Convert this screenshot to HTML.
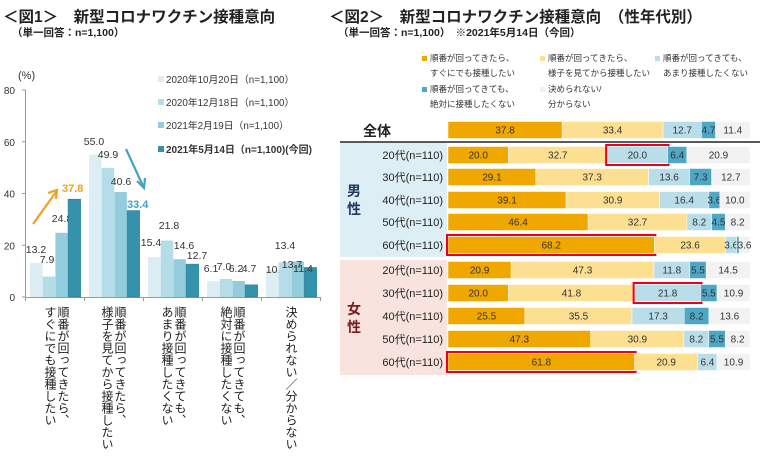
<!DOCTYPE html>
<html><head><meta charset="utf-8">
<style>
body{margin:0;width:760px;height:459px;background:#fff;overflow:hidden;position:relative;font-family:"Liberation Sans","Noto Sans CJK JP",sans-serif;color:#222}
.a{position:absolute;white-space:nowrap}
.vt{position:absolute;writing-mode:vertical-rl;font-size:12px;line-height:13px;color:#222;white-space:nowrap}
</style></head><body>
<div class="a" style="left:3px;top:5px;font-size:15.5px;font-weight:bold">＜図1＞　新型コロナワクチン接種意向</div>
<div class="a" style="left:12px;top:25px;font-size:10.5px;font-weight:bold">（単一回答：n=1,100）</div>
<div class="a" style="left:329px;top:5px;font-size:15.5px;font-weight:bold">＜図2＞　新型コロナワクチン接種意向　（性年代別）</div>
<div class="a" style="left:338px;top:25px;font-size:10.5px;font-weight:bold">（単一回答：n=1,100）　※2021年5月14日（今回）</div>

<div class="vt" style="left:43px;top:306px">順番が回ってきたら、<br>すぐにでも接種したい</div>
<div class="vt" style="left:100px;top:306px">順番が回ってきたら、<br>様子を見てから接種したい</div>
<div class="vt" style="left:160px;top:306px">順番が回ってきても、<br>あまり接種したくない</div>
<div class="vt" style="left:219px;top:306px">順番が回ってきても、<br>絶対に接種したくない</div>
<div class="vt" style="left:284px;top:306px">決められない／分からない</div>

<svg width="760" height="459" style="position:absolute;left:0;top:0" font-family="Liberation Sans, Noto Sans CJK JP, sans-serif">
<g id="c1"></g>
<g id="c2"></g>
</svg>
<script>
var NS="http://www.w3.org/2000/svg";
function el(p,t,a,txt){var e=document.createElementNS(NS,t);for(var k in a)e.setAttribute(k,a[k]);if(txt!=null)e.textContent=txt;p.appendChild(e);return e;}
var c1=document.getElementById("c1");
el(c1,"text",{x:18,y:79,"font-size":11,fill:"#333"},"(%)");
[[80,90],[60,141.75],[40,193.5],[20,245.25],[0,297]].forEach(function(v){
 el(c1,"text",{x:15,y:v[1]+4,"font-size":10,fill:"#333","text-anchor":"end"},v[0]);
 el(c1,"line",{x1:22,x2:26,y1:v[1],y2:v[1],stroke:"#999"});
});
el(c1,"line",{x1:25.5,x2:25.5,y1:90,y2:297,stroke:"#999"});
el(c1,"line",{x1:25,x2:321,y1:297.5,y2:297.5,stroke:"#999"});
for(var k=0;k<6;k++){var tx=25.5+59*k;el(c1,"line",{x1:tx,x2:tx,y1:297,y2:301,stroke:"#999"});}
var cols=["#DCEEF4","#B5DDE8","#93CDDD","#3592AD"];
var data=[[13.2,7.9,24.8,37.8],[55.0,49.9,40.6,33.4],[15.4,21.8,14.6,12.7],[6.1,7.0,6.2,4.7],[10.4,13.4,13.7,11.4]];
var lab=[[[36,253],[47,263],[62,222],null],[[94,145],[108,158],[121,185],null],[[151,246],[169,229],[184,249],[197,259]],[[211,272],[224,270],[236,272],[249,272]],[[276,273],[285,249],[292,268],[303,272]]];
data.forEach(function(g,i){g.forEach(function(v,j){
 var x=30+59*i+12.7*j,h=v*2.5875;
 el(c1,"rect",{x:x,y:297-h,width:12.5,height:h,fill:cols[j],stroke:j==3?"#2a7f99":"none","stroke-width":0.6});
 if(lab[i][j])el(c1,"text",{x:lab[i][j][0],y:lab[i][j][1],"font-size":10.5,fill:"#333","text-anchor":"middle"},v.toFixed(1));
});});
var lg=["2020年10月20日（n=1,100）","2020年12月18日（n=1,100）","2021年2月19日（n=1,100）","2021年5月14日（n=1,100)(今回)"];
[80,103,126,150].forEach(function(y,i){
 el(c1,"rect",{x:158,y:y-4,width:6,height:6,fill:cols[i]});
 el(c1,"text",{x:166,y:y+3,"font-size":i==3?10:9.8,"font-weight":i==3?"bold":"normal",fill:"#333"},lg[i]);
});
el(c1,"line",{x1:33,y1:224,x2:56,y2:192,stroke:"#F0A020","stroke-width":2.2});
el(c1,"polyline",{points:"48,193 57,190 56,199",fill:"none",stroke:"#F0A020","stroke-width":2.2});
el(c1,"text",{x:62,y:192,"font-size":11,"font-weight":"bold",fill:"#F0A020"},"37.8");
el(c1,"line",{x1:126,y1:149,x2:143,y2:186,stroke:"#3FA3C4","stroke-width":2.2});
el(c1,"polyline",{points:"137,181 144,188 145,178",fill:"none",stroke:"#3FA3C4","stroke-width":2.2});
el(c1,"text",{x:127,y:208,"font-size":11,"font-weight":"bold",fill:"#3FA3C4"},"33.4");

var c2=document.getElementById("c2");
var c2c=["#F0A800","#FDDF92","#B9DEE9","#4EA7C5","#F2F2F2"];
var lg2=[[422,60,0,"順番が回ってきたら、","すぐにでも接種したい"],[540,60,1,"順番が回ってきたら、","様子を見てから接種したい"],[655,60,2,"順番が回ってきても、","あまり接種したくない"],[422,91,3,"順番が回ってきても、","絶対に接種したくない"],[540,91,4,"決められない/","分からない"]];
lg2.forEach(function(l){
 el(c2,"rect",{x:l[0],y:l[1]-4,width:5,height:5,fill:c2c[l[2]]});
 el(c2,"text",{x:l[0]+8,y:l[1]+1,"font-size":8.5,fill:"#333"},l[3]);
 el(c2,"text",{x:l[0]+8,y:l[1]+16,"font-size":8.5,fill:"#333"},l[4]);
});
el(c2,"rect",{x:340,y:143,width:107,height:114,fill:"#DDEEF4"});
el(c2,"rect",{x:340,y:260,width:107,height:115,fill:"#F8E3DE"});
el(c2,"line",{x1:340,x2:760,y1:142,y2:142,stroke:"#222","stroke-width":1.5});
el(c2,"text",{x:363,y:136,"font-size":14,"font-weight":"bold",fill:"#222"},"全体");
el(c2,"text",{x:347,y:196,"font-size":14,"font-weight":"bold",fill:"#1F3864"},"男");
el(c2,"text",{x:347,y:214,"font-size":14,"font-weight":"bold",fill:"#1F3864"},"性");
el(c2,"text",{x:347,y:314,"font-size":14,"font-weight":"bold",fill:"#7B1C1C"},"女");
el(c2,"text",{x:347,y:332,"font-size":14,"font-weight":"bold",fill:"#7B1C1C"},"性");
var rows=[
[130,"",[37.8,33.4,12.7,4.7,11.4]],
[155,"20代(n=110)",[20.0,32.7,20.0,6.4,20.9],2],
[177,"30代(n=110)",[29.1,37.3,13.6,7.3,12.7]],
[200,"40代(n=110)",[39.1,30.9,16.4,3.6,10.0]],
[222,"50代(n=110)",[46.4,32.7,8.2,4.5,8.2]],
[245,"60代(n=110)",[68.2,23.6,3.6,0.8,3.6],0],
[270,"20代(n=110)",[20.9,47.3,11.8,5.5,14.5]],
[293,"30代(n=110)",[20.0,41.8,21.8,5.5,10.9],2],
[316,"40代(n=110)",[25.5,35.5,17.3,8.2,13.6]],
[339,"50代(n=110)",[47.3,30.9,8.2,5.5,8.2]],
[362,"60代(n=110)",[61.8,20.9,6.4,0,10.9],0]];
rows.forEach(function(r){
 var y=r[0],x=448,tot=r[2].reduce(function(a,b){return a+b},0),sc=302/tot;
 if(r[1])el(c2,"text",{x:443,y:y+4,"font-size":11,fill:"#222","text-anchor":"end"},r[1]);
 r[2].forEach(function(v,j){
  var w=v*sc;if(w<=0)return;
  el(c2,"rect",{x:x,y:y-8.5,width:w,height:17,fill:c2c[j],stroke:"#fff","stroke-width":0.5});
  if(r[3]===j)el(c2,"rect",{x:x-1,y:y-10,width:w+2,height:20,fill:"none",stroke:"#E8001C","stroke-width":2});
  var t=(r[0]==245&&j==3)?"":v.toFixed(1);
  if(t)el(c2,"text",{x:x+w/2,y:y+3.5,"font-size":10,fill:"#333","text-anchor":"middle"},t);
  x+=w;
 });
});
</script>
</body></html>
